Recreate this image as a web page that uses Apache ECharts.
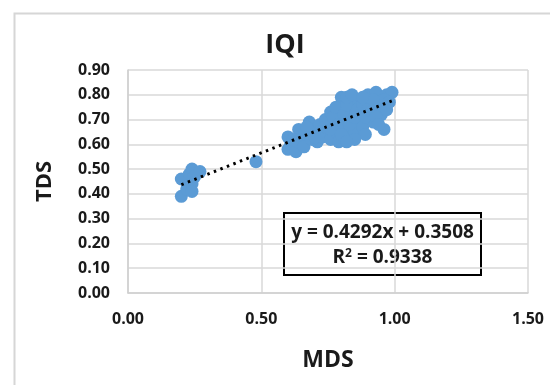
<!DOCTYPE html>
<html>
<head>
<meta charset="utf-8">
<script src="https://cdn.jsdelivr.net/npm/echarts@6/dist/echarts.min.js"></script>
<style>
html,body{margin:0;padding:0;background:#fff;}
#main{width:550px;height:385px;}
</style>
</head>
<body>
<div id="main"></div>
<script>
// ---- data ----
var titleText = 'IQI';
var xName = 'MDS';
var yName = 'TDS';
var xTicks = [0, 0.5, 1.0, 1.5];
var yTicks = [0, 0.1, 0.2, 0.3, 0.4, 0.5, 0.6, 0.7, 0.8, 0.9];
// [MDS, TDS] points
var points = [
  [0.20,0.46],[0.20,0.39],[0.22,0.42],[0.23,0.48],[0.24,0.50],[0.24,0.44],[0.24,0.41],[0.25,0.47],[0.27,0.49],
  [0.48,0.53],
  [0.60,0.63],[0.60,0.58],[0.61,0.60],[0.63,0.57],[0.64,0.66],[0.64,0.61],[0.66,0.62],[0.68,0.69],[0.68,0.64],
  [0.70,0.66],[0.71,0.61],[0.72,0.68],[0.73,0.63],[0.74,0.70],[0.75,0.66],[0.76,0.73],[0.76,0.62],[0.77,0.69],
  [0.78,0.65],[0.79,0.61],[0.80,0.79],[0.80,0.75],[0.80,0.71],[0.81,0.67],[0.82,0.63],[0.83,0.77],[0.84,0.73],
  [0.84,0.69],[0.85,0.65],[0.86,0.78],[0.87,0.75],[0.87,0.71],[0.88,0.67],[0.89,0.64],[0.90,0.80],[0.91,0.77],
  [0.91,0.73],[0.92,0.69],[0.93,0.81],[0.94,0.76],[0.95,0.72],[0.96,0.66],[0.97,0.80],[0.99,0.81],[0.96,0.78],
  [0.97,0.74],
  [0.62,0.62],[0.66,0.59],[0.69,0.62],[0.72,0.65],[0.74,0.67],[0.77,0.71],[0.78,0.75],[0.79,0.68],[0.81,0.72],
  [0.82,0.76],[0.83,0.68],[0.85,0.71],[0.86,0.74],[0.88,0.76],[0.89,0.71],[0.90,0.74],[0.92,0.78],[0.93,0.71],
  [0.94,0.68],[0.98,0.77],[0.82,0.79],[0.85,0.62],[0.76,0.66],[0.70,0.63],[0.67,0.67],[0.84,0.80],[0.88,0.79],
  [0.80,0.64],[0.82,0.61]
];
// trendline endpoints as drawn
var trend = [[0.20,0.437],[1.00,0.780]];
var eqLine1 = 'y = 0.4292x + 0.3508';
var eqR2 = '0.9338';

var FONT = '"Open Sans", sans-serif';
var chart = echarts.init(document.getElementById('main'), null, {renderer:'canvas'});
chart.setOption({
  backgroundColor: '#ffffff',
  animation: false,
  title: {
    text: titleText, left: 280, top: 27, textAlign: 'center',
    textStyle: { fontFamily: FONT, fontWeight: 'bold', fontSize: 27, color: '#1a1a1a' }
  },
  grid: { left: 128, right: 22, top: 70, bottom: 92, containLabel: false },
  xAxis: {
    type: 'value', min: xTicks[0], max: xTicks[xTicks.length-1], interval: 0.5,
    name: xName, nameLocation: 'middle', nameGap: 56,
    nameTextStyle: { fontFamily: FONT, fontWeight: 'bold', fontSize: 23, color: '#1a1a1a' },
    axisLine: { show: true, lineStyle: { color: '#cfcfcf', width: 1.5 } },
    axisTick: { show: false },
    axisLabel: { margin: 18, fontFamily: FONT, fontWeight: 'bold', fontSize: 16, color: '#1a1a1a',
      formatter: function(v){ return v.toFixed(2); } },
    splitLine: { show: true, lineStyle: { color: '#d9d9d9', width: 1.5 } }
  },
  yAxis: {
    type: 'value', min: yTicks[0], max: yTicks[yTicks.length-1], interval: 0.1,
    name: yName, nameLocation: 'middle', nameGap: 72, nameRotate: 90,
    nameTextStyle: { fontFamily: FONT, fontWeight: 'bold', fontSize: 22, color: '#1a1a1a' },
    axisLine: { show: true, lineStyle: { color: '#cfcfcf', width: 1.5 } },
    axisTick: { show: false },
    axisLabel: { margin: 18, fontFamily: FONT, fontWeight: 'bold', fontSize: 16, color: '#1a1a1a',
      formatter: function(v){ return v.toFixed(2); } },
    splitLine: { show: true, lineStyle: { color: '#d9d9d9', width: 1.5 } }
  },
  series: [
    {
      type: 'scatter', data: points, symbolSize: 13,
      itemStyle: { color: '#5b9bd5', opacity: 1 }, z: 2
    },
    {
      type: 'line', data: trend, showSymbol: false, symbol: 'none',
      lineStyle: { color: '#000000', width: 3, type: [2.5, 4.5], cap: 'butt' }, z: 3
    }
  ],
  graphic: [
    {
      type: 'rect', left: 12, top: 11, z: -1, silent: true,
      shape: { width: 600, height: 420 },
      style: { fill: 'none', stroke: '#d6d6d6', lineWidth: 2 }
    },
    {
      type: 'group', left: 283, top: 212, z: 10,
      children: [
        { type: 'rect', shape: { x: 0, y: 0, width: 197, height: 62 },
          style: { fill: '#ffffff', stroke: '#000000', lineWidth: 2 } },
        { type: 'text', x: 98.5, y: 19.5,
          style: { text: eqLine1, fontFamily: FONT, fontWeight: 'bold', fontSize: 19, fill: '#1a1a1a',
            align: 'center', verticalAlign: 'middle' } },
        { type: 'text', x: 98.5, y: 45,
          style: { text: 'R{sup|2} = ' + eqR2, fontFamily: FONT, fontWeight: 'bold', fontSize: 19, fill: '#1a1a1a',
            align: 'center', verticalAlign: 'middle',
            rich: { sup: { fontFamily: FONT, fontWeight: 'bold', fontSize: 12, fill: '#1a1a1a', padding: [0,0,9,0] } } } }
      ]
    }
  ]
});
</script>
</body>
</html>
